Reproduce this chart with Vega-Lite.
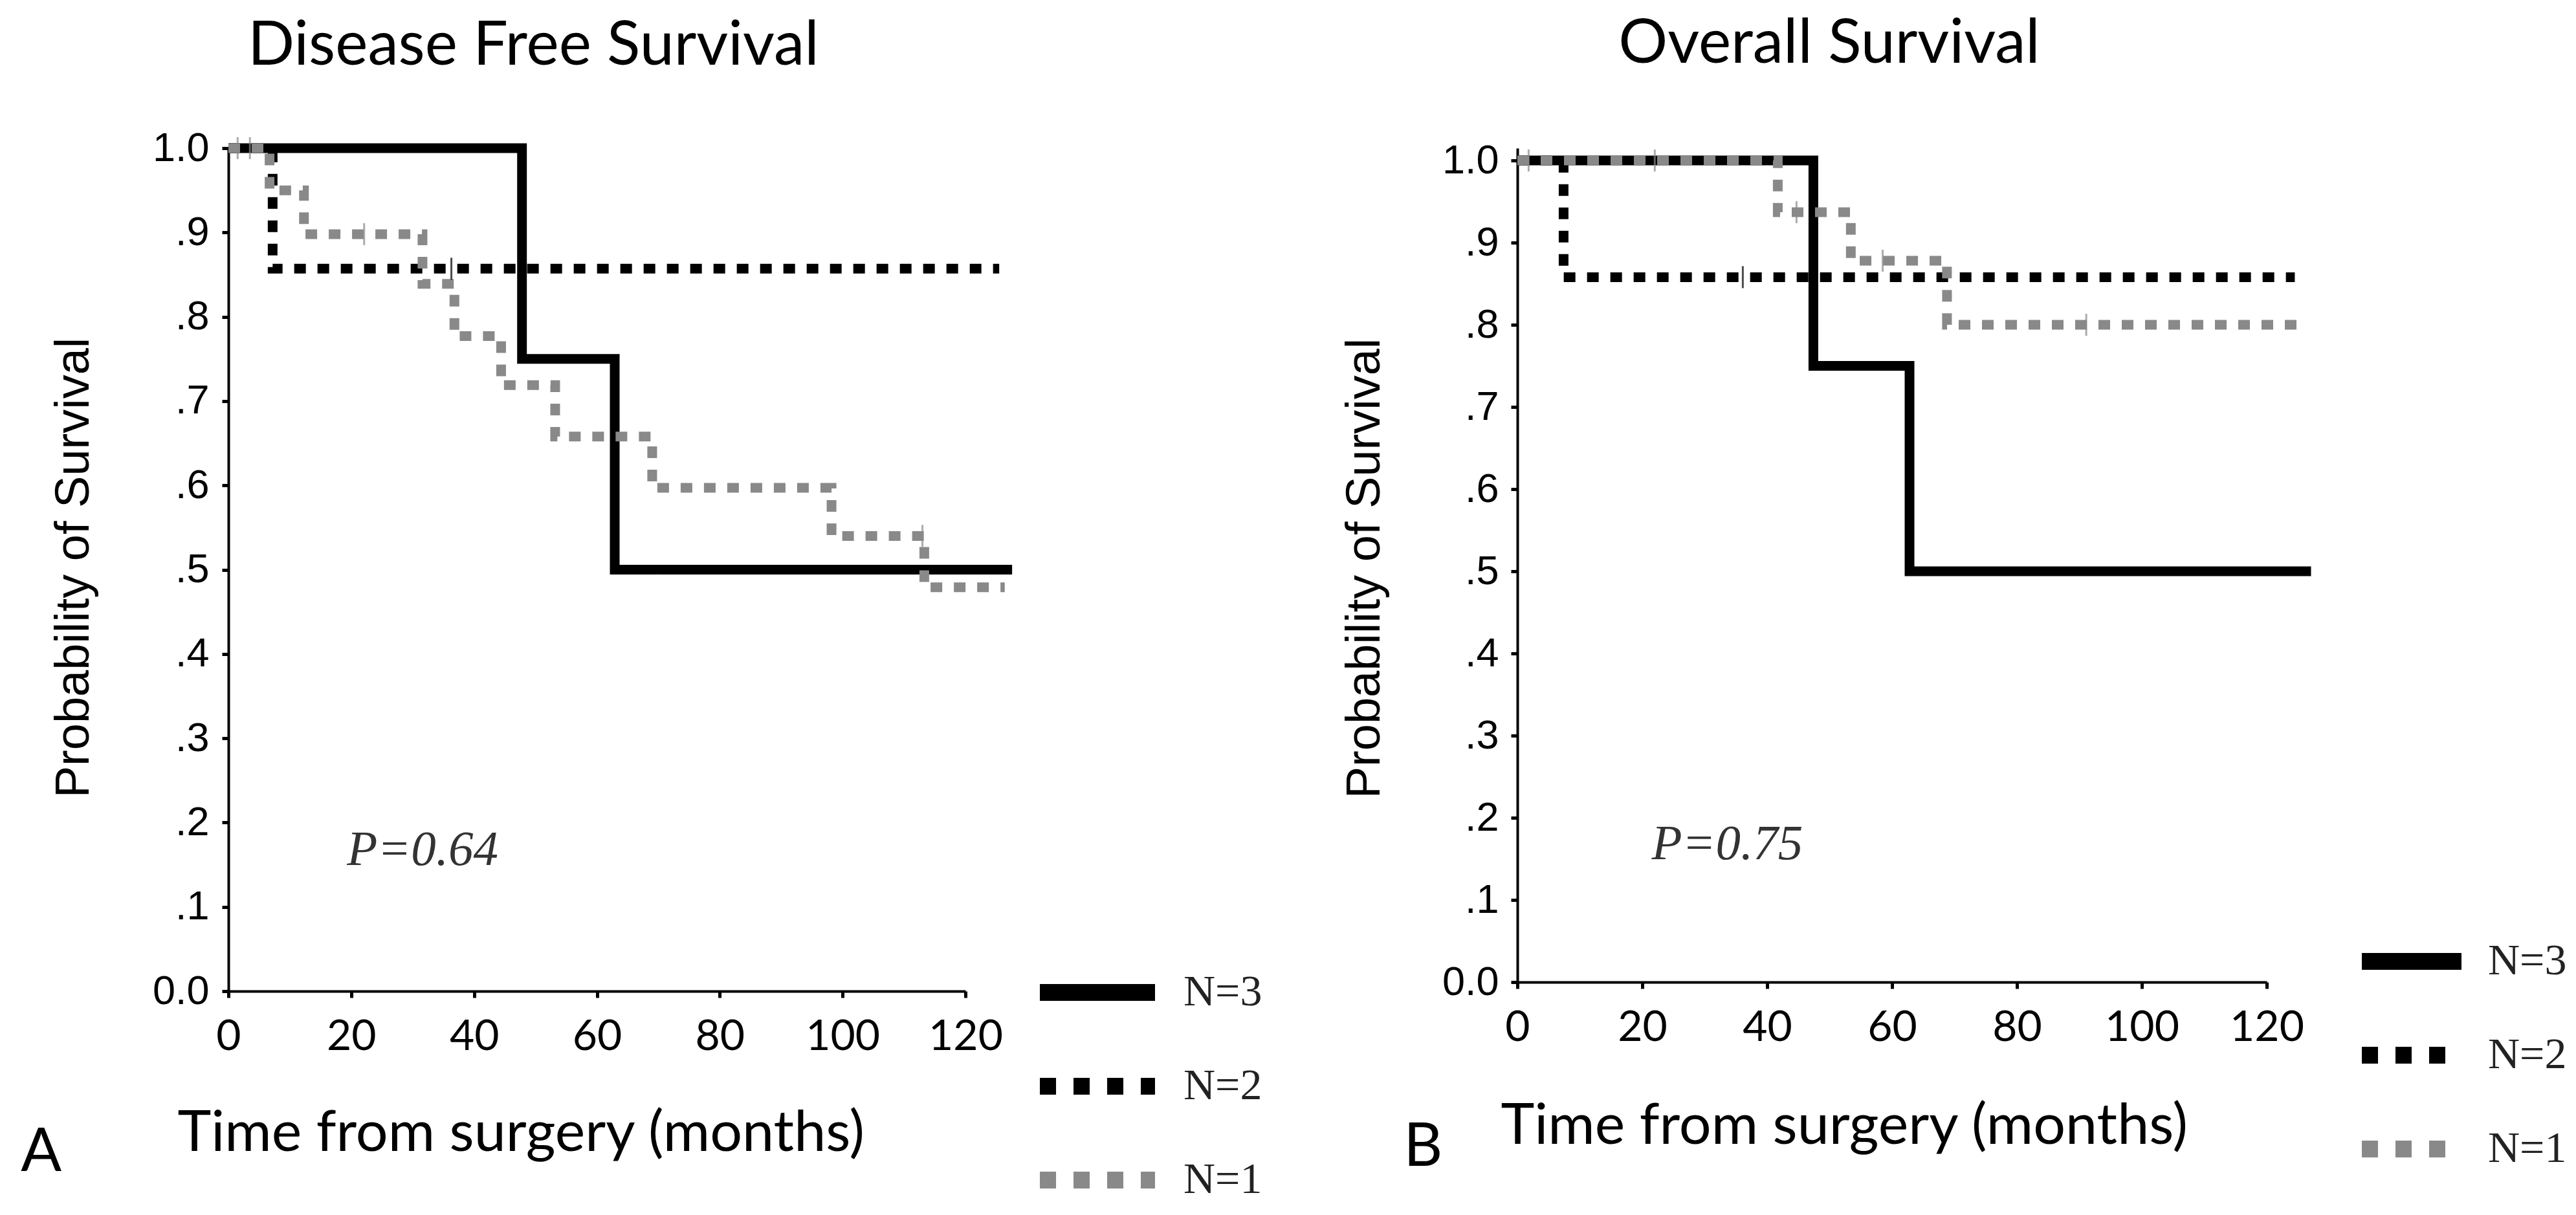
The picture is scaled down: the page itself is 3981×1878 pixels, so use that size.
{
  "$schema": "https://vega.github.io/schema/vega-lite/v6.json",
  "background": "white",
  "padding": {"left": 32, "top": 20, "right": 0, "bottom": 0},
  "autosize": {"type": "pad"},
  "bounds": "flush",
  "spacing": 853,
  "config": {
    "view": {"stroke": null},
    "font": "Lato",
    "axis": {
      "domainColor": "black", "domainWidth": 4, "tickColor": "black", "tickWidth": 5, "tickSize": 10,
      "grid": false, "labelColor": "black", "titleColor": "black", "titleFontWeight": "normal",
      "labelFlush": false, "labelOverlap": false
    }
  },
  "datasets": {
    "dfs": [
      {"group": "N=3", "t": 0, "p": 1}, {"group": "N=3", "t": 47.8, "p": 0.75}, {"group": "N=3", "t": 62.9, "p": 0.5}, {"group": "N=3", "t": 127.6, "p": 0.5},
      {"group": "N=2", "t": 0, "p": 1}, {"group": "N=2", "t": 7.2, "p": 0.857}, {"group": "N=2", "t": 125.5, "p": 0.857},
      {"group": "N=1", "t": 0, "p": 1}, {"group": "N=1", "t": 6.7, "p": 0.95}, {"group": "N=1", "t": 12.3, "p": 0.898},
      {"group": "N=1", "t": 31.6, "p": 0.839}, {"group": "N=1", "t": 36.8, "p": 0.777}, {"group": "N=1", "t": 44.4, "p": 0.719},
      {"group": "N=1", "t": 53.2, "p": 0.658}, {"group": "N=1", "t": 69.0, "p": 0.597}, {"group": "N=1", "t": 98.2, "p": 0.54},
      {"group": "N=1", "t": 113.3, "p": 0.479}, {"group": "N=1", "t": 126.4, "p": 0.479}
    ],
    "dfs_cens": [
      {"group": "N=2", "t": 36.3, "p": 0.857},
      {"group": "N=1", "t": 1.5, "p": 1}, {"group": "N=1", "t": 3.5, "p": 1}, {"group": "N=1", "t": 22.1, "p": 0.898}, {"group": "N=1", "t": 113.0, "p": 0.54}
    ],
    "os": [
      {"group": "N=3", "t": 0, "p": 1}, {"group": "N=3", "t": 47.4, "p": 0.75}, {"group": "N=3", "t": 62.8, "p": 0.5}, {"group": "N=3", "t": 127.1, "p": 0.5},
      {"group": "N=2", "t": 0, "p": 1}, {"group": "N=2", "t": 7.4, "p": 0.858}, {"group": "N=2", "t": 124.5, "p": 0.858},
      {"group": "N=1", "t": 0, "p": 1}, {"group": "N=1", "t": 41.7, "p": 0.937}, {"group": "N=1", "t": 53.4, "p": 0.878},
      {"group": "N=1", "t": 68.8, "p": 0.8}, {"group": "N=1", "t": 126.3, "p": 0.8}
    ],
    "os_cens": [
      {"group": "N=2", "t": 36.1, "p": 0.858},
      {"group": "N=1", "t": 1.8, "p": 1}, {"group": "N=1", "t": 22.0, "p": 1}, {"group": "N=1", "t": 44.7, "p": 0.937},
      {"group": "N=1", "t": 58.5, "p": 0.878}, {"group": "N=1", "t": 91.1, "p": 0.8}
    ]
  },
  "resolve": {
    "scale": {"color": "independent", "strokeDash": "independent"},
    "legend": {"color": "independent", "strokeDash": "independent"}
  },
  "hconcat": [
    {
      "width": 1139,
      "height": 1303,
      "resolve": {"scale": {"color": "independent", "strokeDash": "independent"}, "legend": {"color": "independent", "strokeDash": "independent"}},
      "layer": [
        {
          "data": {"name": "dfs"},
          "mark": {"type": "line", "interpolate": "step-after", "strokeWidth": 15},
          "encoding": {
            "x": {"field": "t", "type": "quantitative", "scale": {"domain": [0, 120], "nice": false, "zero": false},
              "axis": {"values": [0, 20, 40, 60, 80, 100, 120], "title": "Time from surgery (months)", "titleFont": "Lato", "titleFontSize": 88,
                "titleX": -79, "titleY": 246, "titleAlign": "left", "titleBaseline": "alphabetic", "labelFont": "Lato", "labelFontSize": 66, "labelPadding": 28}},
            "y": {"field": "p", "type": "quantitative", "scale": {"domain": [0, 1], "nice": false},
              "axis": {"values": [0, 0.1, 0.2, 0.3, 0.4, 0.5, 0.6, 0.7, 0.8, 0.9, 1], "title": "Probability of Survival", "titleFont": "Liberation Sans", "titleFontSize": 74,
                "titleX": -217, "titleY": 648, "titleAlign": "center", "titleBaseline": "alphabetic", "labelFont": "Liberation Sans", "labelFontSize": 63, "labelPadding": 20,
                "labelExpr": "datum.value == 1 ? '1.0' : datum.value == 0 ? '0.0' : replace(format(datum.value, '.1f'), '0.', '.')",
                "encode": {"labels": {"update": {"dy": {"signal": "datum.value === 0 ? -35 : 0"}}}}}},
            "color": {"field": "group", "type": "nominal", "scale": {"domain": ["N=3", "N=2", "N=1"], "range": ["#000000", "#000000", "#898989"]}, "legend": null},
            "strokeDash": {"field": "group", "type": "nominal", "scale": {"domain": ["N=3", "N=2", "N=1"], "range": [[1, 0], [18, 18], [18, 18]]}, "legend": null}
          }
        },
        {
          "data": {"name": "dfs_cens"},
          "mark": {"type": "tick", "orient": "vertical", "size": 34, "thickness": 3},
          "encoding": {
            "x": {"field": "t", "type": "quantitative"},
            "y": {"field": "p", "type": "quantitative"},
            "color": {"field": "group", "type": "nominal", "scale": {"domain": ["N=3", "N=2", "N=1"], "range": ["#000000", "#000000", "#898989"]}, "legend": null}
          }
        },
        {
          "data": {"name": "dfs"},
          "transform": [{"filter": "false"}],
          "mark": {"type": "line", "strokeWidth": 15},
          "encoding": {
            "x": {"field": "t", "type": "quantitative"},
            "y": {"field": "p", "type": "quantitative"},
            "color": {"field": "group", "type": "nominal", "scale": {"domain": ["N=3", "N=2", "N=1"], "range": ["#000000", "#000000", "#898989"]},
              "legend": {"title": null, "orient": "none", "legendX": 1270, "legendY": 1232, "padding": 0, "symbolType": "M-1.483,0L1.483,0", "symbolSize": 14400,
                "symbolStrokeWidth": 26, "rowPadding": 20, "labelOffset": 60, "labelFont": "Liberation Serif", "labelFontSize": 68, "labelColor": "#222222", "labelLimit": 400}},
            "strokeDash": {"field": "group", "type": "nominal", "scale": {"domain": ["N=3", "N=2", "N=1"], "range": [[1, 0], [25, 27], [25, 27]]},
              "legend": {"title": null, "orient": "none", "legendX": 1270, "legendY": 1232, "padding": 0, "symbolType": "M-1.483,0L1.483,0", "symbolSize": 14400,
                "symbolStrokeWidth": 26, "rowPadding": 20, "labelOffset": 60, "labelFont": "Liberation Serif", "labelFontSize": 68, "labelColor": "#222222", "labelLimit": 400}}
          }
        },
        {
          "data": {"values": [{}]},
          "mark": {"type": "text", "align": "left", "baseline": "alphabetic", "font": "Lato", "fontSize": 95, "color": "black"},
          "encoding": {"x": {"datum": 3.16}, "y": {"datum": 1.099}, "text": {"value": "Disease Free Survival"}}
        },
        {
          "data": {"values": [{}]},
          "mark": {"type": "text", "align": "left", "baseline": "alphabetic", "font": "Liberation Serif", "fontStyle": "italic", "fontSize": 77, "color": "#333333"},
          "encoding": {"x": {"datum": 19.3}, "y": {"datum": 0.15}, "text": {"value": "P=0.64"}}
        },
        {
          "data": {"values": [{}]},
          "mark": {"type": "text", "align": "left", "baseline": "alphabetic", "font": "Lato", "fontSize": 93, "color": "black"},
          "encoding": {"x": {"datum": -33.8}, "y": {"datum": -0.213}, "text": {"value": "A"}}
        }
      ]
    },
    {
      "width": 1158,
      "height": 1289,
      "resolve": {"scale": {"color": "independent", "strokeDash": "independent"}, "legend": {"color": "independent", "strokeDash": "independent"}},
      "layer": [
        {
          "data": {"name": "os"},
          "mark": {"type": "line", "interpolate": "step-after", "strokeWidth": 15},
          "encoding": {
            "x": {"field": "t", "type": "quantitative", "scale": {"domain": [0, 120], "nice": false, "zero": false},
              "axis": {"values": [0, 20, 40, 60, 80, 100, 120], "title": "Time from surgery (months)", "titleFont": "Lato", "titleFontSize": 88,
                "titleX": -26, "titleY": 249, "titleAlign": "left", "titleBaseline": "alphabetic", "labelFont": "Lato", "labelFontSize": 66, "labelPadding": 28}},
            "y": {"field": "p", "type": "quantitative", "scale": {"domain": [0, 1.015], "nice": false},
              "axis": {"values": [0, 0.1, 0.2, 0.3, 0.4, 0.5, 0.6, 0.7, 0.8, 0.9, 1], "title": "Probability of Survival", "titleFont": "Liberation Sans", "titleFontSize": 74,
                "titleX": -214, "titleY": 649, "titleAlign": "center", "titleBaseline": "alphabetic", "labelFont": "Liberation Sans", "labelFontSize": 63, "labelPadding": 19,
                "labelExpr": "datum.value == 1 ? '1.0' : datum.value == 0 ? '0.0' : replace(format(datum.value, '.1f'), '0.', '.')",
                "encode": {"labels": {"update": {"dy": {"signal": "datum.value === 0 ? -35 : 0"}}}}}},
            "color": {"field": "group", "type": "nominal", "scale": {"domain": ["N=3", "N=2", "N=1"], "range": ["#000000", "#000000", "#898989"]}, "legend": null},
            "strokeDash": {"field": "group", "type": "nominal", "scale": {"domain": ["N=3", "N=2", "N=1"], "range": [[1, 0], [18, 18], [18, 18]]}, "legend": null}
          }
        },
        {
          "data": {"name": "os_cens"},
          "mark": {"type": "tick", "orient": "vertical", "size": 34, "thickness": 3},
          "encoding": {
            "x": {"field": "t", "type": "quantitative"},
            "y": {"field": "p", "type": "quantitative"},
            "color": {"field": "group", "type": "nominal", "scale": {"domain": ["N=3", "N=2", "N=1"], "range": ["#000000", "#000000", "#898989"]}, "legend": null}
          }
        },
        {
          "data": {"name": "os"},
          "transform": [{"filter": "false"}],
          "mark": {"type": "line", "strokeWidth": 15},
          "encoding": {
            "x": {"field": "t", "type": "quantitative"},
            "y": {"field": "p", "type": "quantitative"},
            "color": {"field": "group", "type": "nominal", "scale": {"domain": ["N=3", "N=2", "N=1"], "range": ["#000000", "#000000", "#898989"]},
              "legend": {"title": null, "orient": "none", "legendX": 1309, "legendY": 1184, "padding": 0, "symbolType": "M-1.283,0L1.283,0", "symbolSize": 14400,
                "symbolStrokeWidth": 26, "rowPadding": 20, "labelOffset": 45, "labelFont": "Liberation Serif", "labelFontSize": 68, "labelColor": "#222222", "labelLimit": 400}},
            "strokeDash": {"field": "group", "type": "nominal", "scale": {"domain": ["N=3", "N=2", "N=1"], "range": [[1, 0], [25, 27], [25, 27]]},
              "legend": {"title": null, "orient": "none", "legendX": 1309, "legendY": 1184, "padding": 0, "symbolType": "M-1.283,0L1.283,0", "symbolSize": 14400,
                "symbolStrokeWidth": 26, "rowPadding": 20, "labelOffset": 45, "labelFont": "Liberation Serif", "labelFontSize": 68, "labelColor": "#222222", "labelLimit": 400}}
          }
        },
        {
          "data": {"values": [{}]},
          "mark": {"type": "text", "align": "left", "baseline": "alphabetic", "font": "Lato", "fontSize": 95, "color": "black"},
          "encoding": {"x": {"datum": 16.2}, "y": {"datum": 1.119}, "text": {"value": "Overall Survival"}}
        },
        {
          "data": {"values": [{}]},
          "mark": {"type": "text", "align": "left", "baseline": "alphabetic", "font": "Liberation Serif", "fontStyle": "italic", "fontSize": 77, "color": "#333333"},
          "encoding": {"x": {"datum": 21.5}, "y": {"datum": 0.15}, "text": {"value": "P=0.75"}}
        },
        {
          "data": {"values": [{}]},
          "mark": {"type": "text", "align": "left", "baseline": "alphabetic", "font": "Lato", "fontSize": 93, "color": "black"},
          "encoding": {"x": {"datum": -18.2}, "y": {"datum": -0.224}, "text": {"value": "B"}}
        }
      ]
    }
  ]
}
